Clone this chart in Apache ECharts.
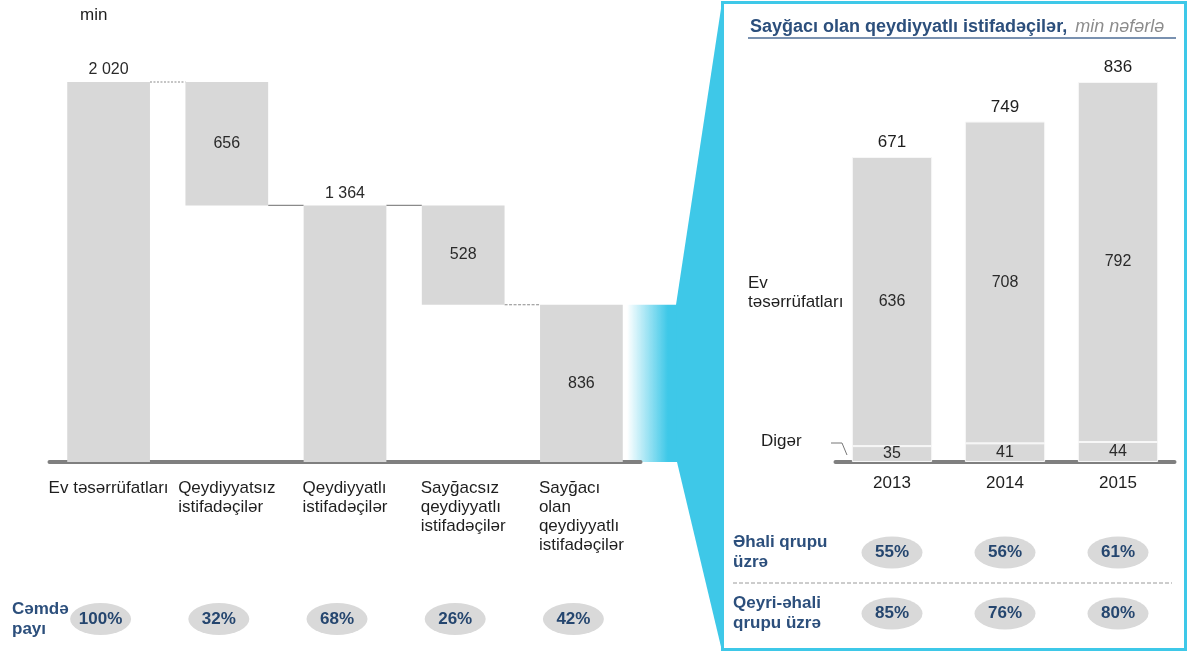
<!DOCTYPE html>
<html>
<head>
<meta charset="utf-8">
<script src="https://cdn.jsdelivr.net/npm/echarts@6/dist/echarts.min.js"></script>
<style>
  html, body { margin: 0; padding: 0; background: #fff; }
  #chart { width: 1188px; height: 653px; }
</style>
</head>
<body>
<div id="chart"></div>
<script>
// Waterfall: households down to registered users with meters
const flowCategories = [
  'Ev təsərrüfatları',
  'Qeydiyyatsız\nistifadəçilər',
  'Qeydiyyatlı\nistifadəçilər',
  'Sayğacsız\nqeydiyyatlı\nistifadəçilər',
  'Sayğacı\nolan\nqeydiyyatlı\nistifadəçilər'
];
const flowValues = [2020, 656, 1364, 528, 836];
const flowKinds = ['total', 'step', 'total', 'step', 'total'];
const flowShares = [100, 32, 68, 26, 42];
const shareRowLabel = ['Cəmdə\npayı'];

// Registered users with meters by year
const years = ['2013', '2014', '2015'];
const otherValues = [35, 41, 44];
const householdValues = [636, 708, 792];
const yearTotals = [671, 749, 836];
const groupRowLabels = ['Əhali qrupu\nüzrə', 'Qeyri-əhali\nqrupu üzrə'];
const populationShares = [55, 56, 61];
const nonPopulationShares = [85, 76, 80];

const FONT = '"Liberation Sans", Arial, sans-serif';
const CYAN = '#3ec8e8';
const BAR = '#d8d8d8';
const AXIS = '#7f7f7f';
const NAVY = '#2c4f7c';
const PILL_TEXT = '#25466f';
const INK = '#1e1e1e';

// floating bases for the waterfall steps
const flowBase = [];
let level = 0;
flowValues.forEach((v, i) => {
  if (flowKinds[i] === 'total') { flowBase.push(0); level = v; }
  else { level -= v; flowBase.push(level); }
});
const flowTops = flowValues.map((v, i) => flowBase[i] + v);
const fmt = v => String(v).replace(/\B(?=(\d{3})+(?!\d))/g, ' ');

const connectorData = [];
for (let i = 0; i < flowValues.length - 1; i++) connectorData.push([i, flowTops[i + 1]]);
const connectorDash = [[2, 1.5], null, null, [3, 1.5]];

const chart = echarts.init(document.getElementById('chart'), null, { renderer: 'canvas' });

const hiddenCat = (gridIndex, data) => ({ gridIndex, type: 'category', data, show: false });
const rowAxis = (gridIndex, data, margin, inverse) => ({
  gridIndex, type: 'category', data, inverse: !!inverse,
  axisLine: { show: false }, axisTick: { show: false }, splitLine: { show: false },
  axisLabel: { align: 'left', margin, fontSize: 17, fontWeight: 'bold', color: NAVY, lineHeight: 20, fontFamily: FONT }
});
const pill = (xi, yi, data, offset) => ({
  type: 'scatter', xAxisIndex: xi, yAxisIndex: yi, data,
  symbol: 'circle', symbolSize: [61, 32], symbolOffset: [offset, 0],
  itemStyle: { color: '#d9d9d9', opacity: 1 }, silent: true,
  label: { show: true, position: 'inside', formatter: p => p.value[2] + '%', fontSize: 17, fontWeight: 'bold', color: PILL_TEXT, opacity: 1, fontFamily: FONT }
});

chart.setOption({
  animation: false,
  textStyle: { fontFamily: FONT },
  grid: [
    { left: 49.5, top: 82, width: 591, height: 380 },
    { left: 835.5, top: 82, width: 339, height: 380 },
    { left: 49.5, top: 603, width: 591, height: 32 },
    { left: 835.5, top: 522, width: 339, height: 122 }
  ],
  xAxis: [
    { gridIndex: 0, type: 'category', data: flowCategories,
      axisLine: { lineStyle: { color: AXIS, width: 4 } }, axisTick: { show: false }, axisLabel: { show: false } },
    { gridIndex: 1, type: 'category', data: years,
      axisLine: { lineStyle: { color: AXIS, width: 4 } }, axisTick: { show: false },
      axisLabel: { fontSize: 17, color: INK, margin: 13, fontFamily: FONT } },
    hiddenCat(2, flowCategories),
    hiddenCat(3, years)
  ],
  yAxis: [
    { gridIndex: 0, type: 'value', min: 0, max: 2020, show: false },
    { gridIndex: 1, type: 'value', min: 0, max: 836, show: false },
    rowAxis(2, shareRowLabel, 37.5, false),
    rowAxis(3, groupRowLabels, 102.5, true)
  ],
  series: [
    { type: 'bar', xAxisIndex: 0, yAxisIndex: 0, stack: 'flow', barWidth: '70%', silent: true,
      itemStyle: { color: 'transparent' }, data: flowBase },
    { type: 'bar', xAxisIndex: 0, yAxisIndex: 0, stack: 'flow', barWidth: '70%',
      itemStyle: { color: BAR },
      label: { show: true, fontSize: 16, color: '#2a2a2a', formatter: p => fmt(p.value), distance: 4, fontFamily: FONT },
      data: flowValues.map((v, i) => ({
        value: v,
        label: { position: (flowKinds[i] === 'total' && i < flowValues.length - 1) ? 'top' : 'inside' }
      })) },
    { type: 'custom', xAxisIndex: 0, yAxisIndex: 0, silent: true, data: connectorData,
      renderItem: (params, api) => {
        const i = api.value(0);
        const lvl = api.value(1);
        const half = api.size([1, 0])[0] * 0.35;
        const a = api.coord([i, lvl]);
        const b = api.coord([i + 1, lvl]);
        return { type: 'line',
          shape: { x1: a[0] + half, y1: a[1], x2: b[0] - half, y2: b[1] },
          style: { stroke: '#8a8a8a', lineWidth: 1.2, lineDash: connectorDash[params.dataIndex] } };
      } },
    { name: 'Digər', type: 'bar', xAxisIndex: 1, yAxisIndex: 1, stack: 'yr', barWidth: '71%',
      itemStyle: { color: BAR, borderColor: '#f7f7f7', borderWidth: 1 },
      label: { show: true, position: 'inside', fontSize: 16, color: '#2a2a2a', fontFamily: FONT },
      data: otherValues },
    { name: 'Ev təsərrüfatları', type: 'bar', xAxisIndex: 1, yAxisIndex: 1, stack: 'yr', barWidth: '71%',
      itemStyle: { color: BAR, borderColor: '#f7f7f7', borderWidth: 1 },
      label: { show: true, position: 'inside', fontSize: 16, color: '#2a2a2a', fontFamily: FONT },
      data: householdValues },
    { name: 'Cəmi', type: 'bar', xAxisIndex: 1, yAxisIndex: 1, barWidth: '71%', barGap: '-100%', silent: true,
      itemStyle: { color: 'transparent' },
      label: { show: true, position: 'top', distance: 6, fontSize: 17, color: INK, fontFamily: FONT },
      data: yearTotals },
    pill(2, 2, flowShares.map((v, i) => [i, 0, v]), -8),
    pill(3, 3, populationShares.map((v, i) => [i, 0, v]), 0),
    pill(3, 3, nonPopulationShares.map((v, i) => [i, 1, v]), 0)
  ]
});

// decorations and category captions placed from the axes
const measure = document.createElement('canvas').getContext('2d');
measure.font = '17px ' + FONT;
const lastIdx = flowValues.length - 1;
const yTop = chart.convertToPixel({ yAxisIndex: 0 }, flowTops[lastIdx]);
const yBase = chart.convertToPixel({ yAxisIndex: 0 }, 0);

const graphics = [];
// connector from the last waterfall bar to the yearly panel
graphics.push({
  type: 'rect', z: 0, silent: true,
  shape: { x: 627, y: yTop, width: 51, height: yBase - yTop },
  style: { fill: new echarts.graphic.LinearGradient(0, 0, 1, 0, [
    { offset: 0, color: 'rgba(62,200,232,0)' },
    { offset: 0.8, color: CYAN },
    { offset: 1, color: CYAN }
  ]) }
});
graphics.push({
  type: 'polygon', z: 0, silent: true,
  shape: { points: [[676, yTop], [722, 2], [722, 651], [677, yBase]] },
  style: { fill: CYAN }
});
graphics.push({
  type: 'rect', z: 1, silent: true,
  shape: { x: 722.5, y: 2.5, width: 463, height: 647 },
  style: { fill: 'none', stroke: CYAN, lineWidth: 3 }
});
// unit
graphics.push({ type: 'text', x: 80, y: 15, style: { text: 'min', font: '17px ' + FONT, fill: INK, textVerticalAlign: 'middle' } });
// panel title
graphics.push({
  type: 'text', x: 750, y: 27,
  style: {
    text: '{a|Sayğacı olan qeydiyyatlı istifadəçilər,}{b|min nəfərlə}',
    textVerticalAlign: 'middle',
    rich: {
      a: { fontSize: 18, fontWeight: 'bold', fill: NAVY, fontFamily: FONT },
      b: { fontSize: 18, fontStyle: 'italic', fill: '#8c8c8c', fontFamily: FONT, padding: [0, 0, 0, 8] }
    }
  }
});
graphics.push({ type: 'line', shape: { x1: 748, y1: 38, x2: 1176, y2: 38 }, style: { stroke: '#4d6d96', lineWidth: 1.5 } });
// series captions in the yearly panel
graphics.push({ type: 'text', x: 748, y: 274, style: { text: 'Ev\ntəsərrüfatları', font: '17px ' + FONT, fill: INK, lineHeight: 19 } });
graphics.push({ type: 'text', x: 761, y: 441, style: { text: 'Digər', font: '17px ' + FONT, fill: INK, textVerticalAlign: 'middle' } });
graphics.push({ type: 'polyline', shape: { points: [[831, 443], [842, 443], [847, 455]] }, style: { stroke: '#777', lineWidth: 1, fill: 'none' } });
// row separator
graphics.push({ type: 'line', shape: { x1: 733, y1: 583, x2: 1172, y2: 583 }, style: { stroke: '#9a9a9a', lineWidth: 1, lineDash: [4, 2] } });
// waterfall category captions: block centred under each bar, lines left-aligned
flowCategories.forEach((c, i) => {
  const cx = chart.convertToPixel({ xAxisIndex: 0 }, i);
  const w = Math.max(...c.split('\n').map(s => measure.measureText(s).width));
  graphics.push({
    type: 'text', x: cx - w / 2, y: 479,
    style: { text: c, font: '17px ' + FONT, fill: INK, lineHeight: 19, textAlign: 'left' }
  });
});

chart.setOption({ graphic: graphics });
</script>
</body>
</html>
